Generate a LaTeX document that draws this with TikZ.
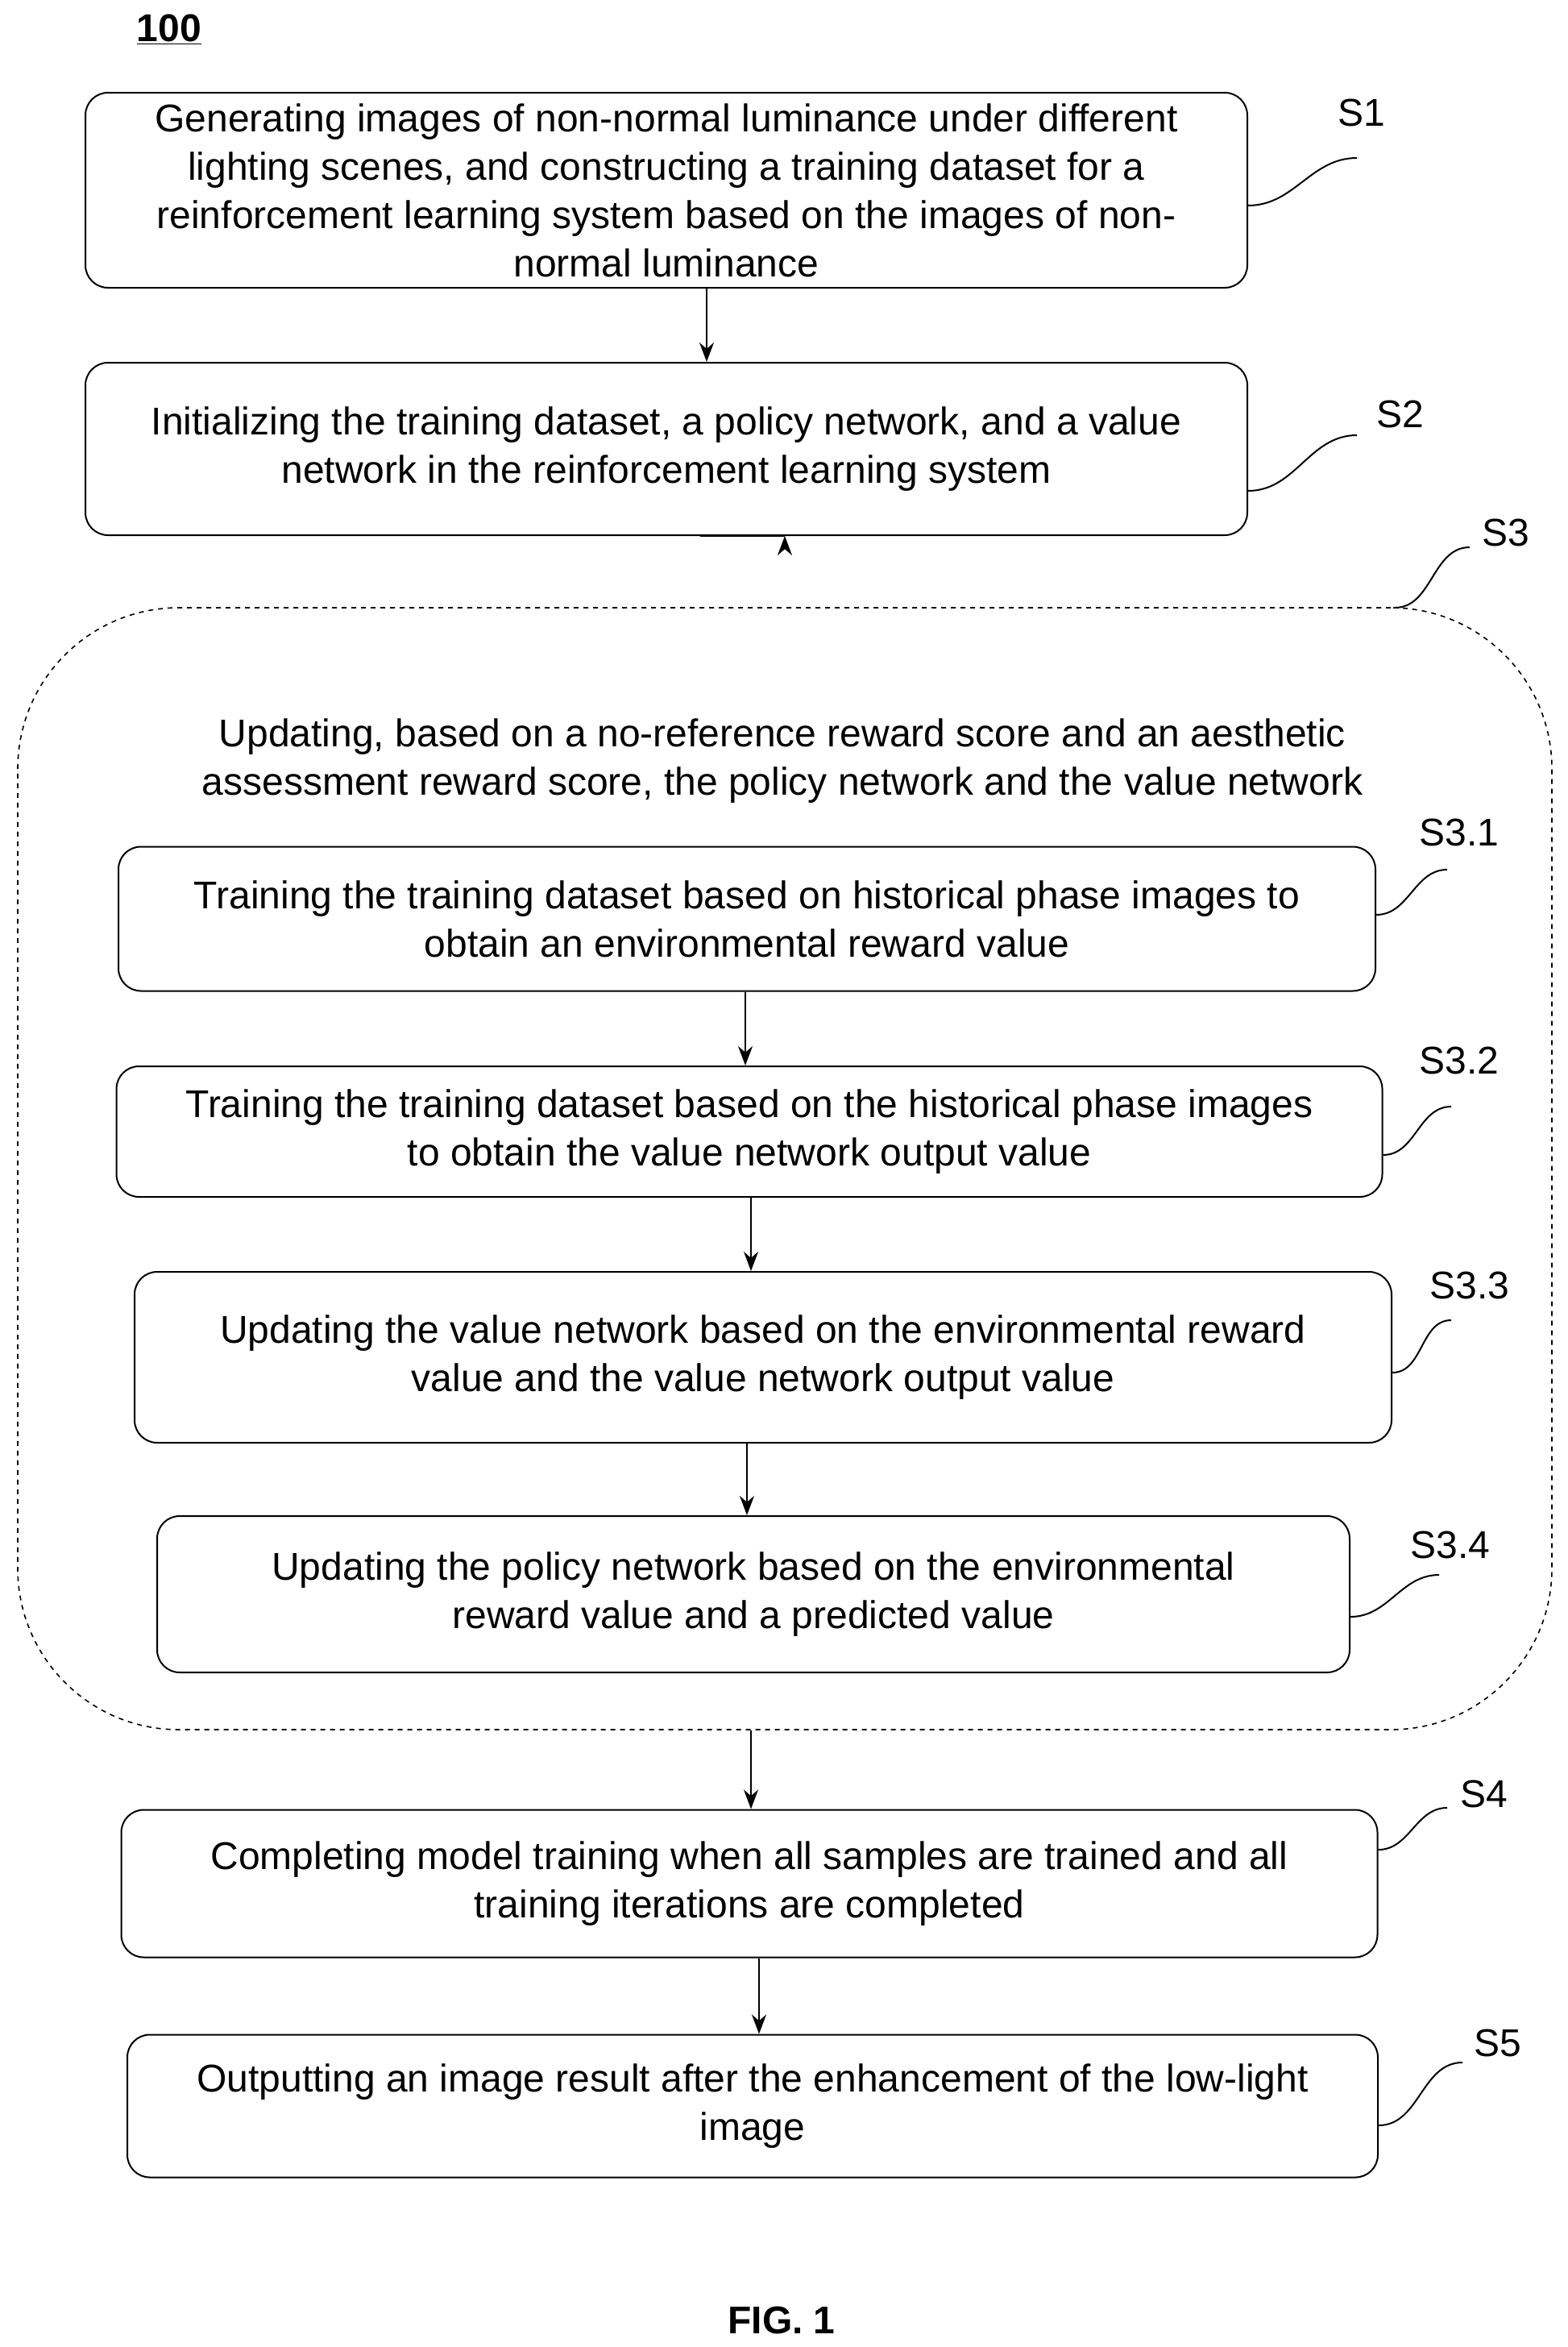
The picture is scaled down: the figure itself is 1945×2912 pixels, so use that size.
\documentclass[tikz,border=0pt]{standalone}
\usepackage{fontspec}
\setmainfont{Liberation Sans}
\usetikzlibrary{arrows.meta}
\begin{document}
\begin{tikzpicture}[x=0.5pt,y=-0.5pt,
  box/.style={draw,line width=1pt,rounded corners=14pt,align=center,font=\fontsize{24}{30}\selectfont,inner sep=0pt},
  lab/.style={font=\fontsize{24}{30}\selectfont,inner sep=0pt},
  arr/.style={line width=1pt,-{Stealth[length=12pt,width=9pt]}},
  sq/.style={line width=1pt}]
\useasboundingbox (0,0) rectangle (1945,2912);
\node[font=\fontsize{24}{30}\selectfont\bfseries] (t100) at (210,37) {\underline{100}};
\node[box,minimum width=721pt,minimum height=121pt] (s1) at (827,236) {Generating images of non-normal luminance under different\\lighting scenes, and constructing a training dataset for a\\reinforcement learning system based on the images of non-\\normal luminance};
\node[box,minimum width=721pt,minimum height=107pt] (s2) at (827,557) {Initializing the training dataset, a policy network, and a value\\network in the reinforcement learning system};
\node[draw,dashed,line width=0.8pt,rounded corners=100pt,minimum width=952pt,minimum height=696pt] (s3) at (974,1450) {};
\node[lab,align=center] (s3t) at (971,944) {Updating, based on a no-reference reward score and an aesthetic\\assessment reward score, the policy network and the value network};
\node[box,minimum width=780pt,minimum height=89.5pt] (s31) at (927,1140) {Training the training dataset based on historical phase images to\\obtain an environmental reward value};
\node[box,minimum width=785.5pt,minimum height=81pt] (s32) at (930,1404) {Training the training dataset based on the historical phase images\\to obtain the value network output value};
\node[box,minimum width=780pt,minimum height=106pt] (s33) at (947,1684) {Updating the value network based on the environmental reward\\value and the value network output value};
\node[box,minimum width=740pt,minimum height=97pt] (s34) at (935,1978) {Updating the policy network based on the environmental\\reward value and a predicted value};
\node[box,minimum width=779.5pt,minimum height=91.5pt] (s4) at (930,2337) {Completing model training when all samples are trained and all\\training iterations are completed};
\node[box,minimum width=776pt,minimum height=88.5pt] (s5) at (934,2613) {Outputting an image result after the enhancement of the low-light\\image};
\node[font=\fontsize{24}{30}\selectfont\bfseries] (fig) at (970,2879) {FIG. 1};
% labels
\node[lab] (l1) at (1690,140) {S1};
\node[lab] (l2) at (1738,514) {S2};
\node[lab] (l3) at (1869,661) {S3};
\node[lab] (l31) at (1811,1033) {S3.1};
\node[lab] (l32) at (1811,1316) {S3.2};
\node[lab] (l33) at (1824,1595) {S3.3};
\node[lab] (l34) at (1800,1917) {S3.4};
\node[lab] (l4) at (1842,2226) {S4};
\node[lab] (l5) at (1859,2535) {S5};
\coordinate (q1) at (1684,196); \coordinate (q2) at (1684,540);
\coordinate (q3) at (1824,679); \coordinate (q31) at (1796,1079);
\coordinate (q32) at (1801,1373); \coordinate (q33) at (1801,1638);
\coordinate (q34) at (1786,1954); \coordinate (q4) at (1796,2243);
\coordinate (q5) at (1815,2559);
\draw[sq] (s1.east |- 0,255) to[out=0,in=180] (q1);
\draw[sq] (s2.east |- 0,609) to[out=0,in=180] (q2);
\draw[sq] (1731,754) to[out=0,in=180] (q3);
\draw[sq] (s31.east |- 0,1135) to[out=0,in=180] (q31);
\draw[sq] (s32.east |- 0,1433) to[out=0,in=180] (q32);
\draw[sq] (s33.east |- 0,1703) to[out=0,in=180] (q33);
\draw[sq] (s34.east |- 0,2006) to[out=0,in=180] (q34);
\draw[sq] (s4.east |- 0,2295) to[out=0,in=180] (q4);
\draw[sq] (s5.east |- 0,2637) to[out=0,in=180] (q5);
% arrows
\draw[arr] ([xshift=25pt]s1.south) -- ([xshift=25pt]s2.north);
\draw[arr] ([xshift=21pt]s2.south) -- (s2.south -| s3.north) ++(0,0) ;
\draw[arr] (s31.south -| 925,0) -- (s32.north -| 925,0);
\draw[arr] (s32.south -| 932,0) -- (s33.north -| 932,0);
\draw[arr] (s33.south -| 927,0) -- (s34.north -| 927,0);
\draw[arr] (s3.south -| 932,0) -- (s4.north -| 932,0);
\draw[arr] (s4.south -| 942,0) -- (s5.north -| 942,0);
\end{tikzpicture}
\end{document}
